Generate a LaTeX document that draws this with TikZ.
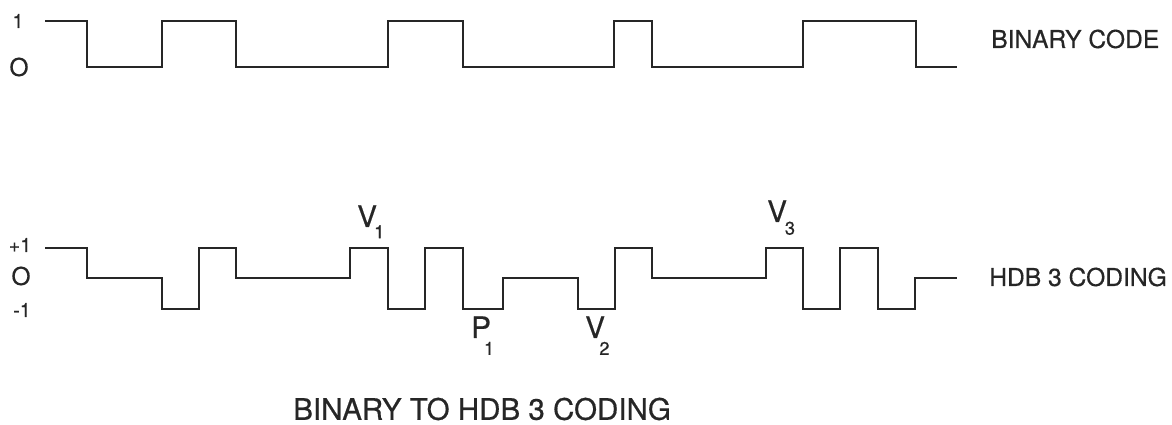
\documentclass[tikz,border=0pt]{standalone}
\usepackage{fontspec}
\setmainfont{TeX Gyre Heros}[FakeBold=0.5]
\newcommand{\sublbl}[4]{#1\kern#3\raisebox{-#4}{\fontsize{13}{13}\selectfont #2}}

\begin{document}
\begin{tikzpicture}[
        x={(0.025cm,0cm)},
        y={(0cm,-0.025cm)},
        wave/.style={line width=1.7pt, black!85},
        lvl/.style={inner sep=0pt, text=black!85, font=\fontsize{14}{14}\selectfont},
        zerolvl/.style={inner sep=0pt, text=black!85, font=\fontsize{17.5}{17.5}\selectfont},
        pulselbl/.style={inner sep=0pt, anchor=base west, text=black!85, font=\fontsize{21}{21}\selectfont},
        codelbl/.style={inner sep=0pt, anchor=west, text=black!85, font=\fontsize{17.5}{17.5}\selectfont}]

        % Frame
        \useasboundingbox (0,0) rectangle (1172,425);

        % Binary code
        \draw[wave] (45,21) -| (87,67) -| (162,21) -| (236,67) -| (388,21) -| (463,67)
            -| (614,21) -| (652,67) -| (803,21) -| (916,67) -- (957,67);

        % HDB 3 coding
        \draw[wave] (45,248) -| (87,278) -| (162,309) -| (199,248) -| (236,278) -| (350,248)
            -| (388,309) -| (425,248) -| (463,309) -| (503,278) -| (578,309) -| (615,248)
            -| (652,278) -| (766,248) -| (803,309) -| (840,248) -| (878,309) -| (915,278) -- (957,278);

        % Levels
        \node[lvl] (one) at (18,21) {1};
        \node[zerolvl] (zero) at (19,67) {O};
        \node[lvl] (plusone) at (20,245) {+1};
        \node[zerolvl] (zeroh) at (21,276) {O};
        \node[lvl] (minusone) at (22,310) {-1};

        % Violation and parity pulses
        \node[pulselbl] (v1) at (357,227) {\sublbl{V}{1}{-2pt}{8pt}};
        \node[pulselbl] (p1) at (471,338) {\sublbl{P}{1}{-5pt}{12pt}};
        \node[pulselbl] (v2) at (585,338) {\sublbl{V}{2}{-4pt}{12pt}};
        \node[pulselbl] (v3) at (767,222) {\sublbl{V}{3}{-1.5pt}{9pt}};

        % Names
        \node[codelbl] (bincode) at (991,39) {BINARY CODE};
        \node[codelbl] (hdbcode) at (989,277) {HDB 3 CODING};
        \node[codelbl, font=\fontsize{21}{21}\selectfont] (title) at (293,409) {BINARY TO HDB 3 CODING};
\end{tikzpicture}
\end{document}
